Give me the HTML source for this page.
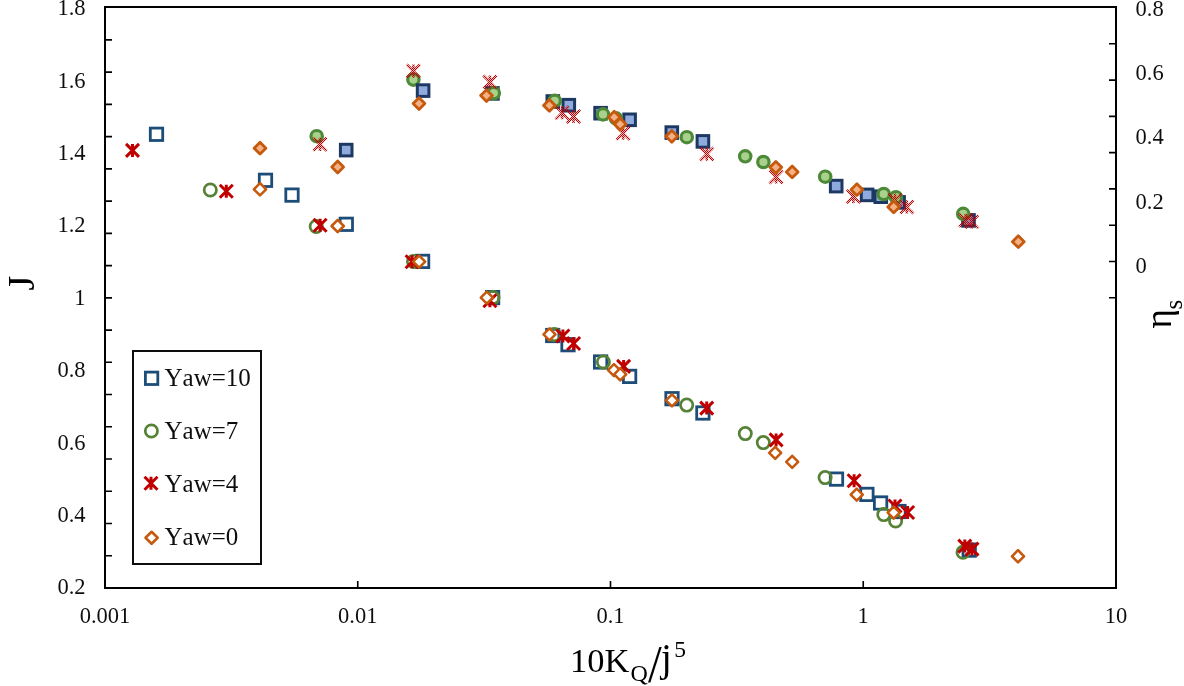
<!DOCTYPE html>
<html><head><meta charset="utf-8"><title>Chart</title>
<style>html,body{margin:0;padding:0;background:#fff}svg{display:block}</style></head>
<body>
<svg width="1184" height="686" viewBox="0 0 1184 686">
<defs><pattern id="chk" width="2" height="2" patternUnits="userSpaceOnUse"><rect width="2" height="2" fill="#C00000" fill-opacity="0.25"/><rect x="0" y="0" width="1" height="1" fill="#C00000"/><rect x="1" y="1" width="1" height="1" fill="#C00000"/></pattern><filter id="soft" x="0" y="0" width="100%" height="100%" filterUnits="userSpaceOnUse"><feGaussianBlur stdDeviation="0.45"/></filter></defs>
<g filter="url(#soft)">
<rect x="0" y="0" width="1184" height="686" fill="#ffffff"/>
<rect x="105" y="7" width="1011" height="581" fill="none" stroke="#000" stroke-width="2"/>
<path d="M105 39.92h7M105 72.16h7M105 104.40h7M105 136.64h7M105 168.88h7M105 201.12h7M105 233.36h7M105 265.60h7M105 297.84h7M105 330.08h7M105 362.32h7M105 394.56h7M105 426.80h7M105 459.04h7M105 491.28h7M105 523.52h7M105 555.76h7M1116 43.80h-7M1116 80.08h-7M1116 116.36h-7M1116 152.64h-7M1116 188.92h-7M1116 225.20h-7M1116 261.48h-7M1116 297.76h-7M357.75 588v-7M610.50 588v-7M863.25 588v-7" stroke="#000" stroke-width="1.6" fill="none"/>
<g font-family="'Liberation Serif', serif" font-size="22.5" fill="#111">
<text x="85.5" y="15.4" text-anchor="end">1.8</text>
<text x="85.5" y="87.8" text-anchor="end">1.6</text>
<text x="85.5" y="160.1" text-anchor="end">1.4</text>
<text x="85.5" y="232.4" text-anchor="end">1.2</text>
<text x="85.5" y="304.8" text-anchor="end">1</text>
<text x="85.5" y="377.1" text-anchor="end">0.8</text>
<text x="85.5" y="449.5" text-anchor="end">0.6</text>
<text x="85.5" y="521.8" text-anchor="end">0.4</text>
<text x="85.5" y="594.2" text-anchor="end">0.2</text>
<text x="1135.5" y="15.8">0.8</text>
<text x="1135.5" y="80.1">0.6</text>
<text x="1135.5" y="144.4">0.4</text>
<text x="1135.5" y="208.7">0.2</text>
<text x="1135.5" y="273.0">0</text>
<text x="105.0" y="622.6" text-anchor="middle">0.001</text>
<text x="357.8" y="622.6" text-anchor="middle">0.01</text>
<text x="610.5" y="622.6" text-anchor="middle">0.1</text>
<text x="863.2" y="622.6" text-anchor="middle">1</text>
<text x="1116.0" y="622.6" text-anchor="middle">10</text>
</g>
<g font-family="'Liberation Serif', serif" fill="#000">
<text transform="translate(34.2,290.6) rotate(-90)" font-size="38">J</text>
<text transform="translate(1171.3,328.5) rotate(-90)" font-size="37">η</text>
<text transform="translate(1182.3,309.5) rotate(-90)" font-size="25">s</text>
<text x="570" y="671.6" font-size="34.5">10K</text>
<text x="630.4" y="681.2" font-size="24">Q</text>
<text transform="translate(648.1,682.3) scale(0.93,1)" font-size="53">/</text>
<text x="661" y="671.2" font-size="39">j</text>
<text x="674.3" y="656.6" font-size="23.5">5</text>
</g>
<rect x="150.3" y="128.1" width="12.4" height="12.4" fill="none" stroke="#1F4E79" stroke-width="2.8"/>
<rect x="259.3" y="174.1" width="12.4" height="12.4" fill="none" stroke="#1F4E79" stroke-width="2.8"/>
<rect x="285.8" y="188.9" width="12.4" height="12.4" fill="none" stroke="#1F4E79" stroke-width="2.8"/>
<rect x="340.1" y="218.1" width="12.4" height="12.4" fill="none" stroke="#1F4E79" stroke-width="2.8"/>
<rect x="416.4" y="255.2" width="12.4" height="12.4" fill="none" stroke="#1F4E79" stroke-width="2.8"/>
<rect x="486.4" y="291.4" width="12.4" height="12.4" fill="none" stroke="#1F4E79" stroke-width="2.8"/>
<rect x="546.5" y="329.3" width="12.4" height="12.4" fill="none" stroke="#1F4E79" stroke-width="2.8"/>
<rect x="561.8" y="338.5" width="12.4" height="12.4" fill="none" stroke="#1F4E79" stroke-width="2.8"/>
<rect x="594.4" y="355.8" width="12.4" height="12.4" fill="none" stroke="#1F4E79" stroke-width="2.8"/>
<rect x="623.4" y="370.2" width="12.4" height="12.4" fill="none" stroke="#1F4E79" stroke-width="2.8"/>
<rect x="665.8" y="392.5" width="12.4" height="12.4" fill="none" stroke="#1F4E79" stroke-width="2.8"/>
<rect x="696.7" y="406.8" width="12.4" height="12.4" fill="none" stroke="#1F4E79" stroke-width="2.8"/>
<rect x="830.3" y="472.9" width="12.4" height="12.4" fill="none" stroke="#1F4E79" stroke-width="2.8"/>
<rect x="860.7" y="488.2" width="12.4" height="12.4" fill="none" stroke="#1F4E79" stroke-width="2.8"/>
<rect x="874.4" y="496.8" width="12.4" height="12.4" fill="none" stroke="#1F4E79" stroke-width="2.8"/>
<rect x="892.8" y="505.3" width="12.4" height="12.4" fill="none" stroke="#1F4E79" stroke-width="2.8"/>
<rect x="963.0" y="543.9" width="12.4" height="12.4" fill="none" stroke="#1F4E79" stroke-width="2.8"/>
<circle cx="210.3" cy="190.0" r="6.15" fill="none" stroke="#548235" stroke-width="2.7"/>
<circle cx="316.2" cy="226.5" r="6.15" fill="none" stroke="#548235" stroke-width="2.7"/>
<circle cx="413.5" cy="261.4" r="6.15" fill="none" stroke="#548235" stroke-width="2.7"/>
<circle cx="493.0" cy="297.6" r="6.15" fill="none" stroke="#548235" stroke-width="2.7"/>
<circle cx="554.3" cy="334.6" r="6.15" fill="none" stroke="#548235" stroke-width="2.7"/>
<circle cx="603.4" cy="362.0" r="6.15" fill="none" stroke="#548235" stroke-width="2.7"/>
<circle cx="686.7" cy="405.1" r="6.15" fill="none" stroke="#548235" stroke-width="2.7"/>
<circle cx="745.3" cy="433.6" r="6.15" fill="none" stroke="#548235" stroke-width="2.7"/>
<circle cx="763.3" cy="442.6" r="6.15" fill="none" stroke="#548235" stroke-width="2.7"/>
<circle cx="825.1" cy="477.6" r="6.15" fill="none" stroke="#548235" stroke-width="2.7"/>
<circle cx="883.8" cy="514.6" r="6.15" fill="none" stroke="#548235" stroke-width="2.7"/>
<circle cx="895.6" cy="521.0" r="6.15" fill="none" stroke="#548235" stroke-width="2.7"/>
<circle cx="963.0" cy="552.3" r="6.15" fill="none" stroke="#548235" stroke-width="2.7"/>
<path d="M126.0 143.9L139.0 156.9M126.0 156.9L139.0 143.9M132.5 143.9L132.5 156.9" fill="none" stroke="#C00000" stroke-width="3.0" stroke-opacity="1"/>
<path d="M219.8 184.8L232.8 197.8M219.8 197.8L232.8 184.8M226.3 184.8L226.3 197.8" fill="none" stroke="#C00000" stroke-width="3.0" stroke-opacity="1"/>
<path d="M313.6 218.7L326.6 231.7M313.6 231.7L326.6 218.7M320.1 218.7L320.1 231.7" fill="none" stroke="#C00000" stroke-width="3.0" stroke-opacity="1"/>
<path d="M405.6 255.3L418.6 268.3M405.6 268.3L418.6 255.3M412.1 255.3L412.1 268.3" fill="none" stroke="#C00000" stroke-width="3.0" stroke-opacity="1"/>
<path d="M483.4 294.2L496.4 307.2M483.4 307.2L496.4 294.2M489.9 294.2L489.9 307.2" fill="none" stroke="#C00000" stroke-width="3.0" stroke-opacity="1"/>
<path d="M556.4 329.5L569.4 342.5M556.4 342.5L569.4 329.5M562.9 329.5L562.9 342.5" fill="none" stroke="#C00000" stroke-width="3.0" stroke-opacity="1"/>
<path d="M567.1 337.0L580.1 350.0M567.1 350.0L580.1 337.0M573.6 337.0L573.6 350.0" fill="none" stroke="#C00000" stroke-width="3.0" stroke-opacity="1"/>
<path d="M617.1 359.9L630.1 372.9M617.1 372.9L630.1 359.9M623.6 359.9L623.6 372.9" fill="none" stroke="#C00000" stroke-width="3.0" stroke-opacity="1"/>
<path d="M700.2 401.6L713.2 414.6M700.2 414.6L713.2 401.6M706.7 401.6L706.7 414.6" fill="none" stroke="#C00000" stroke-width="3.0" stroke-opacity="1"/>
<path d="M769.6 433.4L782.6 446.4M769.6 446.4L782.6 433.4M776.1 433.4L776.1 446.4" fill="none" stroke="#C00000" stroke-width="3.0" stroke-opacity="1"/>
<path d="M847.6 474.3L860.6 487.3M847.6 487.3L860.6 474.3M854.1 474.3L854.1 487.3" fill="none" stroke="#C00000" stroke-width="3.0" stroke-opacity="1"/>
<path d="M888.5 499.5L901.5 512.5M888.5 512.5L901.5 499.5M895.0 499.5L895.0 512.5" fill="none" stroke="#C00000" stroke-width="3.0" stroke-opacity="1"/>
<path d="M901.1 506.0L914.1 519.0M901.1 519.0L914.1 506.0M907.6 506.0L907.6 519.0" fill="none" stroke="#C00000" stroke-width="3.0" stroke-opacity="1"/>
<path d="M958.3 539.6L971.3 552.6M958.3 552.6L971.3 539.6M964.8 539.6L964.8 552.6" fill="none" stroke="#C00000" stroke-width="3.0" stroke-opacity="1"/>
<path d="M965.5 542.6L978.5 555.6M965.5 555.6L978.5 542.6M972.0 542.6L972.0 555.6" fill="none" stroke="#C00000" stroke-width="3.0" stroke-opacity="1"/>
<path d="M260.0 183.2L266.1 189.3L260.0 195.4L253.9 189.3Z" fill="#fff" stroke="#C55A11" stroke-width="2.6" stroke-linejoin="round"/>
<path d="M337.7 219.9L343.8 226.0L337.7 232.1L331.6 226.0Z" fill="#fff" stroke="#C55A11" stroke-width="2.6" stroke-linejoin="round"/>
<path d="M419.2 255.6L425.2 261.6L419.2 267.7L413.1 261.6Z" fill="#fff" stroke="#C55A11" stroke-width="2.6" stroke-linejoin="round"/>
<path d="M486.8 291.6L492.9 297.6L486.8 303.7L480.8 297.6Z" fill="#fff" stroke="#C55A11" stroke-width="2.6" stroke-linejoin="round"/>
<path d="M549.5 328.3L555.5 334.4L549.5 340.4L543.5 334.4Z" fill="#fff" stroke="#C55A11" stroke-width="2.6" stroke-linejoin="round"/>
<path d="M614.0 364.1L620.0 370.2L614.0 376.2L608.0 370.2Z" fill="#fff" stroke="#C55A11" stroke-width="2.6" stroke-linejoin="round"/>
<path d="M620.2 368.2L626.2 374.3L620.2 380.4L614.2 374.3Z" fill="#fff" stroke="#C55A11" stroke-width="2.6" stroke-linejoin="round"/>
<path d="M672.0 394.3L678.0 400.4L672.0 406.4L666.0 400.4Z" fill="#fff" stroke="#C55A11" stroke-width="2.6" stroke-linejoin="round"/>
<path d="M775.2 446.8L781.2 452.8L775.2 458.9L769.2 452.8Z" fill="#fff" stroke="#C55A11" stroke-width="2.6" stroke-linejoin="round"/>
<path d="M792.2 455.8L798.2 461.9L792.2 467.9L786.2 461.9Z" fill="#fff" stroke="#C55A11" stroke-width="2.6" stroke-linejoin="round"/>
<path d="M856.7 488.6L862.8 494.6L856.7 500.7L850.7 494.6Z" fill="#fff" stroke="#C55A11" stroke-width="2.6" stroke-linejoin="round"/>
<path d="M893.7 506.6L899.8 512.6L893.7 518.6L887.7 512.6Z" fill="#fff" stroke="#C55A11" stroke-width="2.6" stroke-linejoin="round"/>
<path d="M1018.0 550.2L1024.0 556.3L1018.0 562.3L1012.0 556.3Z" fill="#fff" stroke="#C55A11" stroke-width="2.6" stroke-linejoin="round"/>
<rect x="340.4" y="144.3" width="11.6" height="11.6" fill="#8FAADC" stroke="#1F3864" stroke-width="3.0"/>
<rect x="486.6" y="87.6" width="11.6" height="11.6" fill="#8FAADC" stroke="#1F3864" stroke-width="3.0"/>
<rect x="547.0" y="95.7" width="11.6" height="11.6" fill="#8FAADC" stroke="#1F3864" stroke-width="3.0"/>
<rect x="563.0" y="99.4" width="11.6" height="11.6" fill="#8FAADC" stroke="#1F3864" stroke-width="3.0"/>
<rect x="594.8" y="107.4" width="11.6" height="11.6" fill="#8FAADC" stroke="#1F3864" stroke-width="3.0"/>
<rect x="623.8" y="114.0" width="11.6" height="11.6" fill="#8FAADC" stroke="#1F3864" stroke-width="3.0"/>
<rect x="666.0" y="126.8" width="11.6" height="11.6" fill="#8FAADC" stroke="#1F3864" stroke-width="3.0"/>
<rect x="697.1" y="135.6" width="11.6" height="11.6" fill="#8FAADC" stroke="#1F3864" stroke-width="3.0"/>
<rect x="830.4" y="180.3" width="11.6" height="11.6" fill="#8FAADC" stroke="#1F3864" stroke-width="3.0"/>
<rect x="861.3" y="189.1" width="11.6" height="11.6" fill="#8FAADC" stroke="#1F3864" stroke-width="3.0"/>
<rect x="875.0" y="190.9" width="11.6" height="11.6" fill="#8FAADC" stroke="#1F3864" stroke-width="3.0"/>
<rect x="892.8" y="196.6" width="11.6" height="11.6" fill="#8FAADC" stroke="#1F3864" stroke-width="3.0"/>
<rect x="962.7" y="214.6" width="11.6" height="11.6" fill="#8FAADC" stroke="#1F3864" stroke-width="3.0"/>
<circle cx="316.7" cy="136.2" r="5.7" fill="#A9D18E" stroke="#4E8A38" stroke-width="3.2"/>
<circle cx="413.4" cy="79.6" r="5.7" fill="#A9D18E" stroke="#4E8A38" stroke-width="3.2"/>
<circle cx="493.8" cy="93.1" r="5.7" fill="#A9D18E" stroke="#4E8A38" stroke-width="3.2"/>
<circle cx="554.7" cy="100.8" r="5.7" fill="#A9D18E" stroke="#4E8A38" stroke-width="3.2"/>
<circle cx="603.0" cy="114.4" r="5.7" fill="#A9D18E" stroke="#4E8A38" stroke-width="3.2"/>
<circle cx="615.9" cy="118.3" r="5.7" fill="#A9D18E" stroke="#4E8A38" stroke-width="3.2"/>
<circle cx="686.8" cy="137.2" r="5.7" fill="#A9D18E" stroke="#4E8A38" stroke-width="3.2"/>
<circle cx="745.2" cy="156.3" r="5.7" fill="#A9D18E" stroke="#4E8A38" stroke-width="3.2"/>
<circle cx="763.4" cy="162.0" r="5.7" fill="#A9D18E" stroke="#4E8A38" stroke-width="3.2"/>
<circle cx="825.2" cy="176.7" r="5.7" fill="#A9D18E" stroke="#4E8A38" stroke-width="3.2"/>
<circle cx="883.7" cy="194.0" r="5.7" fill="#A9D18E" stroke="#4E8A38" stroke-width="3.2"/>
<circle cx="895.9" cy="197.2" r="5.7" fill="#A9D18E" stroke="#4E8A38" stroke-width="3.2"/>
<circle cx="963.2" cy="213.8" r="5.7" fill="#A9D18E" stroke="#4E8A38" stroke-width="3.2"/>
<rect x="417.3" y="84.8" width="11.6" height="11.6" fill="#8FAADC" stroke="#1F3864" stroke-width="3.0"/>
<path d="M313.4 137.7L326.6 150.9M313.4 150.9L326.6 137.7M320.0 137.7L320.0 150.9" fill="none" stroke="url(#chk)" stroke-width="2.6" stroke-opacity="1"/>
<path d="M406.8 64.5L420.0 77.7M406.8 77.7L420.0 64.5M413.4 64.5L413.4 77.7" fill="none" stroke="url(#chk)" stroke-width="2.6" stroke-opacity="1"/>
<path d="M483.3 75.5L496.5 88.7M483.3 88.7L496.5 75.5M489.9 75.5L489.9 88.7" fill="none" stroke="url(#chk)" stroke-width="2.6" stroke-opacity="1"/>
<path d="M555.5 106.1L568.7 119.3M555.5 119.3L568.7 106.1M562.1 106.1L562.1 119.3" fill="none" stroke="url(#chk)" stroke-width="2.6" stroke-opacity="1"/>
<path d="M566.9 109.9L580.1 123.1M566.9 123.1L580.1 109.9M573.5 109.9L573.5 123.1" fill="none" stroke="url(#chk)" stroke-width="2.6" stroke-opacity="1"/>
<path d="M616.5 126.6L629.7 139.8M616.5 139.8L629.7 126.6M623.1 126.6L623.1 139.8" fill="none" stroke="url(#chk)" stroke-width="2.6" stroke-opacity="1"/>
<path d="M700.2 147.5L713.4 160.7M700.2 160.7L713.4 147.5M706.8 147.5L706.8 160.7" fill="none" stroke="url(#chk)" stroke-width="2.6" stroke-opacity="1"/>
<path d="M769.5 170.3L782.7 183.5M769.5 183.5L782.7 170.3M776.1 170.3L776.1 183.5" fill="none" stroke="url(#chk)" stroke-width="2.6" stroke-opacity="1"/>
<path d="M846.8 190.0L860.0 203.2M846.8 203.2L860.0 190.0M853.4 190.0L853.4 203.2" fill="none" stroke="url(#chk)" stroke-width="2.6" stroke-opacity="1"/>
<path d="M888.4 193.6L901.6 206.8M888.4 206.8L901.6 193.6M895.0 193.6L895.0 206.8" fill="none" stroke="url(#chk)" stroke-width="2.6" stroke-opacity="1"/>
<path d="M900.2 200.3L913.4 213.5M900.2 213.5L913.4 200.3M906.8 200.3L906.8 213.5" fill="none" stroke="url(#chk)" stroke-width="2.6" stroke-opacity="1"/>
<path d="M959.1 213.7L972.3 226.9M959.1 226.9L972.3 213.7M965.7 213.7L965.7 226.9" fill="none" stroke="url(#chk)" stroke-width="2.6" stroke-opacity="1"/>
<path d="M965.2 215.2L978.4 228.4M965.2 228.4L978.4 215.2M971.8 215.2L971.8 228.4" fill="none" stroke="url(#chk)" stroke-width="2.6" stroke-opacity="1"/>
<path d="M260.0 142.3L265.9 148.2L260.0 154.1L254.1 148.2Z" fill="#F4B183" stroke="#C55A11" stroke-width="2.8" stroke-linejoin="round"/>
<path d="M337.7 161.1L343.6 167.0L337.7 172.9L331.8 167.0Z" fill="#F4B183" stroke="#C55A11" stroke-width="2.8" stroke-linejoin="round"/>
<path d="M419.0 97.7L424.9 103.6L419.0 109.5L413.1 103.6Z" fill="#F4B183" stroke="#C55A11" stroke-width="2.8" stroke-linejoin="round"/>
<path d="M486.5 89.7L492.4 95.6L486.5 101.5L480.6 95.6Z" fill="#F4B183" stroke="#C55A11" stroke-width="2.8" stroke-linejoin="round"/>
<path d="M549.4 99.5L555.3 105.4L549.4 111.3L543.5 105.4Z" fill="#F4B183" stroke="#C55A11" stroke-width="2.8" stroke-linejoin="round"/>
<path d="M614.2 111.3L620.1 117.2L614.2 123.1L608.3 117.2Z" fill="#F4B183" stroke="#C55A11" stroke-width="2.8" stroke-linejoin="round"/>
<path d="M620.2 118.3L626.1 124.2L620.2 130.1L614.3 124.2Z" fill="#F4B183" stroke="#C55A11" stroke-width="2.8" stroke-linejoin="round"/>
<path d="M671.8 130.4L677.7 136.3L671.8 142.2L665.9 136.3Z" fill="#F4B183" stroke="#C55A11" stroke-width="2.8" stroke-linejoin="round"/>
<path d="M775.8 161.4L781.7 167.3L775.8 173.2L769.9 167.3Z" fill="#F4B183" stroke="#C55A11" stroke-width="2.8" stroke-linejoin="round"/>
<path d="M792.2 166.0L798.1 171.9L792.2 177.8L786.3 171.9Z" fill="#F4B183" stroke="#C55A11" stroke-width="2.8" stroke-linejoin="round"/>
<path d="M856.9 183.8L862.8 189.7L856.9 195.6L851.0 189.7Z" fill="#F4B183" stroke="#C55A11" stroke-width="2.8" stroke-linejoin="round"/>
<path d="M893.7 201.0L899.6 206.9L893.7 212.8L887.8 206.9Z" fill="#F4B183" stroke="#C55A11" stroke-width="2.8" stroke-linejoin="round"/>
<path d="M1018.3 235.8L1024.2 241.7L1018.3 247.6L1012.4 241.7Z" fill="#F4B183" stroke="#C55A11" stroke-width="2.8" stroke-linejoin="round"/>
<rect x="133" y="351" width="128" height="213" fill="#fff" stroke="#111" stroke-width="2"/>
<rect x="145.4" y="372.1" width="12.4" height="12.4" fill="#fff" stroke="#1F4E79" stroke-width="2.8"/>
<circle cx="151.4" cy="431.0" r="6.15" fill="none" stroke="#548235" stroke-width="2.7"/>
<path d="M144.5 476.8L157.5 489.8M144.5 489.8L157.5 476.8M151.0 476.8L151.0 489.8" fill="none" stroke="#C00000" stroke-width="3.0" stroke-opacity="1"/>
<path d="M151.6 531.8L157.7 537.8L151.6 543.8L145.5 537.8Z" fill="#fff" stroke="#C55A11" stroke-width="2.6" stroke-linejoin="round"/>
<g font-family="'Liberation Serif', serif" font-size="25" fill="#111" style="font-kerning:none">
<text x="164.5" y="385.6">Yaw=10</text>
<text x="164.5" y="439.2">Yaw=7</text>
<text x="164.5" y="491.8">Yaw=4</text>
<text x="164.5" y="545.2">Yaw=0</text>
</g>
</g>
</svg>
</body></html>
